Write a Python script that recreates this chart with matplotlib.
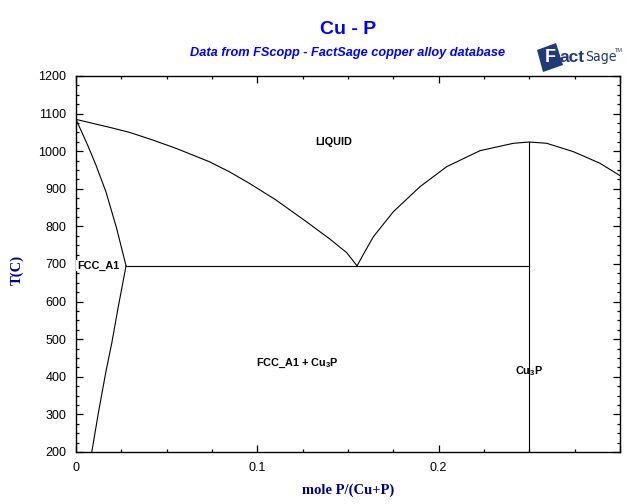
import matplotlib
matplotlib.use("Agg")
import matplotlib.pyplot as plt
from matplotlib.patches import Polygon
from matplotlib.ticker import MultipleLocator, FixedLocator, FuncFormatter

plt.rcParams['font.family'] = ['Liberation Sans', 'DejaVu Sans']
plt.rcParams['mathtext.fontset'] = 'custom'
plt.rcParams['mathtext.rm'] = 'Liberation Sans:bold'
plt.rcParams['mathtext.bf'] = 'Liberation Sans:bold'
plt.rcParams['mathtext.it'] = 'Liberation Sans:bold'

# ---- data (mole fraction P, temperature in C) ----
liq_left_x = [0.0, 0.0184, 0.0294, 0.0423, 0.0551, 0.0735, 0.0845, 0.0956, 0.1103,
              0.1272, 0.1401, 0.1493, 0.155]
liq_left_T = [1084.6, 1063.6, 1050.3, 1029.8, 1007.7, 972.1, 945.5, 914.6, 870.2,
              812.0, 766.0, 730.0, 695.0]

liq_right_x = [0.155, 0.1585, 0.164, 0.175, 0.1897, 0.2044, 0.2228, 0.2412, 0.25,
               0.2596, 0.2743, 0.289, 0.3]
liq_right_T = [695.0, 726.0, 772.6, 839.0, 905.6, 958.8, 1001.4, 1021.0, 1024.5,
               1021.0, 998.7, 967.8, 935.0]

solidus_x = [0.0, 0.0064, 0.011, 0.0165, 0.0224, 0.0276]
solidus_T = [1084.6, 1016.5, 963.0, 892.3, 795.0, 695.0]

solvus_x = [0.0276, 0.0233, 0.0197, 0.0165, 0.0123, 0.0087]
solvus_T = [695.0, 586.0, 489.0, 414.0, 303.0, 200.0]

eutectic_x = [0.0276, 0.25]
eutectic_T = [695.0, 695.0]

cu3p_x = [0.25, 0.25]
cu3p_T = [1024.5, 200.0]

x_major = [0.0, 0.1, 0.2, 0.3]
x_labels = ['0', '0.1', '0.2', '']

region_labels = ['LIQUID', 'FCC_A1', 'FCC_A1 + Cu$_3$P', 'Cu$_3$P']
region_x = [0.142, 0.0, 0.122, 0.25]
region_T = [1025, 695, 435, 414]

# ---- figure ----
fig = plt.figure(figsize=(6.4, 5.04), dpi=100)
fig.patch.set_facecolor('white')
ax = fig.add_axes([76 / 640, 52 / 504, 544 / 640, 376 / 504])

lw = 0.8
for xs, ts in [(liq_left_x, liq_left_T), (liq_right_x, liq_right_T),
               (solidus_x, solidus_T), (solvus_x, solvus_T),
               (eutectic_x, eutectic_T), (cu3p_x, cu3p_T)]:
    ax.plot(xs, ts, color='black', lw=lw, solid_joinstyle='round')

ax.set_xlim(0, 0.3)
ax.set_ylim(200, 1200)

ax.xaxis.set_major_locator(FixedLocator(x_major))
ax.xaxis.set_major_formatter(FuncFormatter(lambda v, p: x_labels[p] if p < len(x_labels) else ''))
ax.xaxis.set_minor_locator(MultipleLocator(0.025))
ax.yaxis.set_major_locator(MultipleLocator(100))
ax.yaxis.set_minor_locator(MultipleLocator(25))
ax.yaxis.set_major_formatter(FuncFormatter(lambda v, p: f'{int(round(v))}'))

ax.tick_params(which='both', direction='in', top=True, right=True, color='black')
ax.tick_params(which='major', length=5, width=0.9, labelsize=9, pad=7)
ax.tick_params(which='minor', length=2.5, width=0.9)
ax.tick_params(axis='x', which='major', pad=7)
for sp in ax.spines.values():
    sp.set_linewidth(1.0)

# region labels
ax.text(region_x[0], region_T[0], region_labels[0], fontsize=7.8, fontweight='bold',
        ha='center', va='center')
ax.text(region_x[1] + 0.0005, region_T[1], region_labels[1], fontsize=7.8, fontweight='bold',
        ha='left', va='center', bbox=dict(facecolor='white', edgecolor='none', pad=0.3))
ax.text(region_x[2], region_T[2], region_labels[2], fontsize=7.8, fontweight='bold',
        ha='center', va='center')
ax.text(region_x[3], region_T[3], region_labels[3], fontsize=7.8, fontweight='bold',
        ha='center', va='center')

# titles
fig.text(348 / 640, 1 - 30 / 504, 'Cu - P', color='#0000FF', fontsize=14,
         fontweight='bold', ha='center', va='center')
fig.text(348 / 640, 1 - 53 / 504, 'Data from FScopp - FactSage copper alloy database',
         color='#0000FF', fontsize=9.2, fontweight='bold', style='italic',
         ha='center', va='center')

# axis labels
fig.text(17 / 640, 1 - 270 / 504, 'T(C)', color='#000080', fontsize=10.5,
         fontweight='bold', family='Liberation Serif', rotation=90,
         ha='center', va='center')
fig.text(348 / 640, 1 - 490 / 504, 'mole P/(Cu+P)', color='#000080', fontsize=10.5,
         fontweight='bold', family='Liberation Serif', ha='center', va='center')

# FactSage logo (approximation)
navy = '#1F3A78'
W, H = 640.0, 504.0
sq = [(537, 50), (556, 43), (563, 65), (543, 72)]
fig.patches.append(Polygon([(px / W, 1 - py / H) for px, py in sq], closed=True,
                           transform=fig.transFigure, facecolor=navy, edgecolor='none'))
fig.text(545 / W, 1 - 58 / H, 'F', color='white', fontsize=13, fontweight='bold',
         ha='left', va='center', family='Liberation Sans')
fig.text(559 / W, 1 - 58 / H, 'act', color=navy, fontsize=12.5, fontweight='bold',
         ha='left', va='center', family='Liberation Sans')
fig.text(585 / W, 1 - 57 / H, 'Sage', color=navy, fontsize=10, fontstretch='condensed',
         ha='left', va='center', family='Liberation Sans Narrow')
fig.text(615 / W, 1 - 50 / H, 'TM', color=navy, fontsize=4,
         ha='left', va='center', family='Liberation Sans')

fig.savefig('out.png', dpi=100, facecolor='white')
